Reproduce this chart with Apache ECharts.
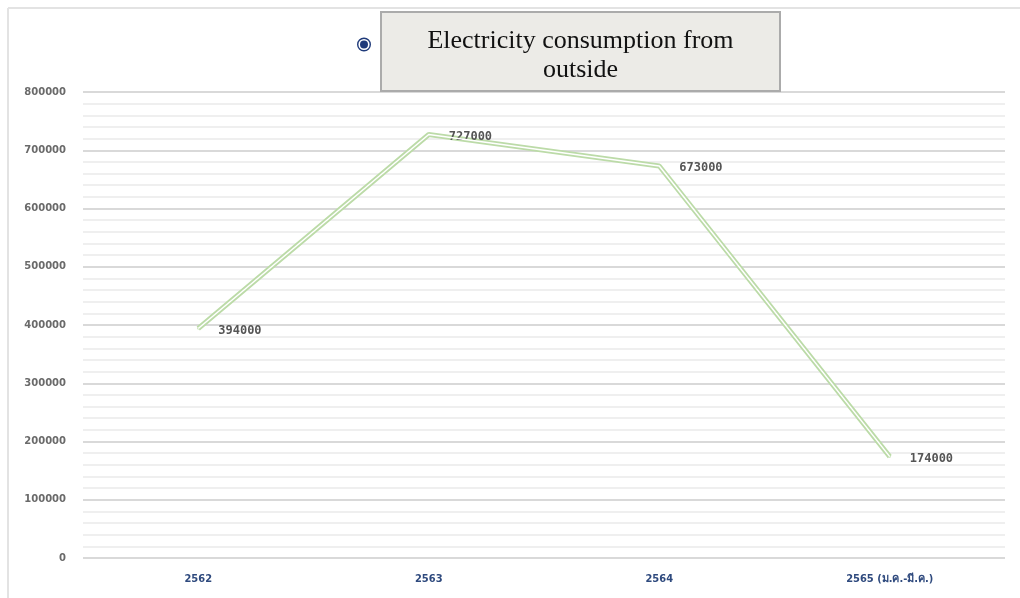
<!DOCTYPE html>
<html>
<head>
<meta charset="utf-8">
<script src="https://cdn.jsdelivr.net/npm/echarts@6/dist/echarts.min.js"></script>
<style>
  html, body { margin: 0; padding: 0; background: #fff; }
  #chart { width: 1020px; height: 598px; }
</style>
</head>
<body>
<div id="chart"></div>
<script>
const years = ["2562", "2563", "2564", "2565 (ม.ค.-มี.ค.)"];
const consumption = [394000, 727000, 673000, 174000];
const seriesName = "Electricity consumption from outside";

// radio-button style marker, sitting in the upper-left of a 20x28 box
const radioIcon = "path://M0 7A7 7 0 1 1 14 7A7 7 0 1 1 0 7Z" +
  "M1.4 7A5.6 5.6 0 1 0 12.6 7A5.6 5.6 0 1 0 1.4 7Z" +
  "M3 7A4 4 0 1 1 11 7A4 4 0 1 1 3 7Z" +
  "M20 28L20 28";

const chart = echarts.init(document.getElementById("chart"));

const option = {
  animation: false,
  backgroundColor: "#fff",
  graphic: [
    { type: "line", shape: { x1: 8, y1: 8, x2: 1020, y2: 8 }, style: { stroke: "#e3e3e3", lineWidth: 2 } },
    { type: "line", shape: { x1: 8, y1: 8, x2: 8, y2: 598 }, style: { stroke: "#e3e3e3", lineWidth: 2 } }
  ],
  legend: {
    top: 11,
    left: 357,
    padding: 0,
    data: [{
      name: seriesName,
      icon: radioIcon,
      itemStyle: { color: "#1f3a7a", borderWidth: 0, opacity: 1 }
    }],
    itemWidth: 20,
    itemHeight: 28,
    formatter: () => "{t|Electricity consumption from}\n{t|outside}",
    textStyle: {
      width: 397,
      backgroundColor: "#ecebe7",
      borderColor: "#ababab",
      borderWidth: 2,
      padding: [14, 0, 5, 0],
      rich: {
        t: {
          width: 397,
          align: "center",
          fontFamily: "Liberation Serif",
          fontSize: 26,
          lineHeight: 29,
          color: "#111"
        }
      }
    }
  },
  grid: { left: 83, right: 15, top: 92, bottom: 40 },
  xAxis: {
    type: "category",
    data: years,
    boundaryGap: true,
    axisLine: { show: false },
    axisTick: { show: false },
    axisLabel: {
      margin: 16,
      color: "#2f4a7e",
      fontFamily: "DejaVu Sans Condensed",
      fontWeight: "bold",
      fontSize: 11
    }
  },
  yAxis: {
    type: "value",
    min: 0,
    max: 800000,
    interval: 100000,
    axisLine: { show: false },
    axisTick: { show: false },
    axisLabel: {
      margin: 17,
      color: "#6a6a6a",
      fontFamily: "DejaVu Sans",
      fontWeight: "bold",
      fontSize: 10,
      formatter: (v) => String(v)
    },
    splitLine: { lineStyle: { color: "#d9d9d9", width: 2 } },
    minorTick: { show: false, splitNumber: 5 },
    minorSplitLine: { show: true, lineStyle: { color: "#efefef", width: 2 } }
  },
  series: [
    {
      name: seriesName,
      type: "line",
      data: consumption,
      symbol: "circle",
      symbolSize: 2,
      showSymbol: true,
      itemStyle: { color: "#bcdba8" },
      lineStyle: { color: "#bcdba8", width: 5 },
      label: {
        show: true,
        position: "right",
        distance: 19,
        offset: [0, 2],
        color: "#555",
        fontFamily: "DejaVu Sans Mono",
        fontWeight: "bold",
        fontSize: 12
      },
      z: 2
    },
    {
      name: "inner",
      type: "line",
      data: consumption,
      symbol: "none",
      lineStyle: { color: "#ffffff", width: 1.5 },
      silent: true,
      z: 3
    }
  ]
};

chart.setOption(option);
window.addEventListener("resize", () => {
  chart.resize();
});
</script>
</body>
</html>
